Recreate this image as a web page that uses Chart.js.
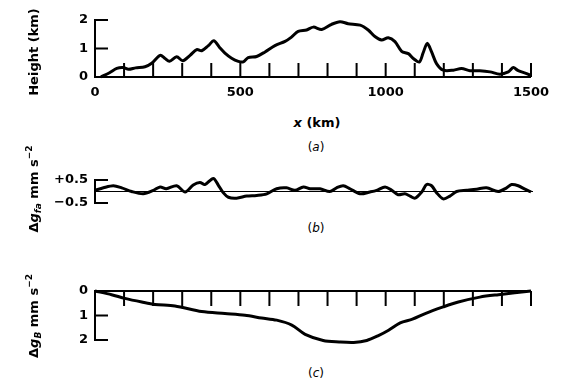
<!DOCTYPE html>
<html>
<head>
<meta charset="utf-8">
<script src="https://cdn.jsdelivr.net/npm/chart.js@4.4.1/dist/chart.umd.min.js"></script>
<style>
    html, body { margin: 0; padding: 0; background: #fff; }
    #page { position: relative; width: 576px; height: 388px; overflow: hidden; font-family: 'DejaVu Sans', sans-serif; color: #000; }
    canvas { position: absolute; left: 0; }
    .lbl { position: absolute; white-space: nowrap; transform: translate(-50%, -50%); font-weight: bold; font-size: 13px; line-height: 1; }
    .rot { transform: translate(-50%, -50%) rotate(-90deg); }
    .cap { font-weight: normal; font-size: 12px; }
    sub, sup { font-size: 9px; line-height: 0; }
</style>
</head>
<body>
<div id="page">
    <canvas id="chart-a" width="576" height="110" style="top:0px"></canvas>
    <canvas id="chart-b" width="576" height="50" style="top:160px"></canvas>
    <canvas id="chart-c" width="576" height="80" style="top:270px"></canvas>

    <div class="lbl rot" style="left:33px; top:52px">Height (km)</div>
    <div class="lbl" style="left:317px; top:122px"><i>x</i> (km)</div>
    <div class="lbl cap" style="left:316px; top:147px">(<i>a</i>)</div>

    <div class="lbl rot" style="left:33px; top:189px">Δ<i>g</i><sub><i>fa</i></sub> mm s<sup>−2</sup></div>
    <div class="lbl cap" style="left:316px; top:228px">(<i>b</i>)</div>

    <div class="lbl rot" style="left:33px; top:316px">Δ<i>g</i><sub><i>B</i></sub> mm s<sup>−2</sup></div>
    <div class="lbl cap" style="left:316px; top:373px">(<i>c</i>)</div>
</div>
<script>
// Topographic profile (a)
const kmA = [20, 50, 75, 97, 115, 140, 172, 195, 224, 241, 256, 281, 302, 327, 350, 367, 390, 409, 430, 447,
    470, 493, 510, 527, 556, 585, 619, 654, 676, 699, 728, 751, 780, 814, 843, 871, 912, 940, 963, 986,
    1009, 1032, 1055, 1078, 1095, 1116, 1129, 1143, 1158, 1175, 1198, 1233, 1261, 1290, 1324, 1359, 1393,
    1422, 1439, 1456, 1485, 1500];
const heightA = [0, 0.15, 0.3, 0.33, 0.27, 0.32, 0.36, 0.48, 0.76, 0.65, 0.55, 0.71, 0.57, 0.76, 0.96, 0.92, 1.1, 1.27, 1.02, 0.84,
    0.66, 0.55, 0.53, 0.68, 0.72, 0.88, 1.1, 1.25, 1.4, 1.6, 1.65, 1.75, 1.67, 1.85, 1.94, 1.87, 1.82, 1.65, 1.42, 1.3,
    1.38, 1.24, 0.9, 0.82, 0.65, 0.53, 0.85, 1.18, 0.88, 0.47, 0.24, 0.24, 0.3, 0.22, 0.22, 0.18, 0.1,
    0.18, 0.33, 0.22, 0.12, 0.05];

// Free-air anomaly (b)
const kmB = [0, 29, 63, 92, 126, 166, 201, 224, 245, 281, 310, 338, 361, 378, 407, 424, 441, 459, 487, 522,
    556, 591, 625, 659, 688, 717, 740, 774, 808, 831, 854, 877, 912, 946, 969, 998, 1021, 1043, 1066, 1084,
    1101, 1124, 1141, 1158, 1175, 1198, 1221, 1244, 1279, 1313, 1347, 1387, 1416, 1433, 1456, 1479, 1500];
const gfaB = [0.05, 0.16, 0.25, 0.16, 0, -0.1, 0.05, 0.2, 0.12, 0.25, -0.02, 0.28, 0.39, 0.3, 0.57, 0.28, -0.05, -0.25, -0.29, -0.2,
    -0.17, -0.1, 0.12, 0.16, 0.05, 0.2, 0.12, 0.12, 0, 0.16, 0.25, 0.12, -0.1, -0.02, 0.05, 0.2, 0.05, -0.14, -0.1, -0.2,
    -0.29, -0.02, 0.3, 0.25, -0.05, -0.32, -0.2, 0, 0.05, 0.1, 0.16, 0, 0.16, 0.3, 0.25, 0.1, -0.02];

// Bouguer anomaly (c)
const kmC = [0, 57, 103, 161, 206, 275, 367, 447, 516, 573, 625, 677, 723, 785, 840, 890, 935, 975, 1010, 1050,
    1092, 1136, 1198, 1250, 1324, 1388, 1500];
const gbC = [0, 0.15, 0.3, 0.45, 0.55, 0.61, 0.84, 0.92, 0.99, 1.1, 1.19, 1.39, 1.77, 2.02, 2.08, 2.1, 2.02, 1.82, 1.6, 1.3,
    1.15, 0.92, 0.65, 0.45, 0.25, 0.15, 0];

// Tick positions
const xTickKm = [100, 200, 300, 400, 500, 600, 700, 800, 900, 1000, 1100, 1200, 1300, 1400, 1500];
const xLabelKm = [0, 500, 1000, 1500];
const yTicksA = [0, 1, 2];
const yTicksB = [-0.5, 0.5];
const yTicksC = [0, 1, 2];

const TICK_FONT = { family: 'DejaVu Sans', weight: 'bold', size: 13 };

const toPoints = (xs, ys) => xs.map((x, i) => ({ x, y: ys[i] }));

// Axis lines and inward tick marks
const axisFrame = {
    id: 'axisFrame',
    afterDatasetsDraw(chart, args, opts) {
        const { ctx, scales: { x, y } } = chart;
        const x0 = x.getPixelForValue(0);
        const x1 = x.getPixelForValue(1500);
        ctx.save();
        ctx.strokeStyle = '#000';
        ctx.lineCap = 'butt';

        // left axis + y ticks
        ctx.lineWidth = 2;
        ctx.beginPath();
        ctx.moveTo(x0, y.getPixelForValue(opts.yTicks[0]));
        ctx.lineTo(x0, y.getPixelForValue(opts.yTicks[opts.yTicks.length - 1]));
        opts.yTicks.forEach(v => {
            const py = y.getPixelForValue(v);
            ctx.moveTo(x0 - 1, py);
            ctx.lineTo(x0 + opts.yTickLen, py);
        });
        ctx.stroke();

        // horizontal base line
        const yb = y.getPixelForValue(opts.baseAt);
        ctx.lineWidth = opts.baseWidth;
        ctx.beginPath();
        ctx.moveTo(x0, yb);
        ctx.lineTo(x1 + (opts.baseExtra || 0), yb);
        ctx.stroke();

        // x ticks
        if (opts.xTicks) {
            ctx.lineWidth = 2;
            ctx.beginPath();
            opts.xTicks.forEach(v => {
                const px = x.getPixelForValue(v);
                ctx.moveTo(px, yb);
                ctx.lineTo(px, yb + opts.xTickDir * opts.xTickLen);
            });
            ctx.stroke();
        }
        ctx.restore();
    }
};

function makeChart(canvasId, points, cfg) {
    const ctx = document.getElementById(canvasId).getContext('2d');
    return new Chart(ctx, {
        type: 'line',
        data: {
            datasets: [{
                data: points,
                borderColor: '#000',
                borderWidth: 3,
                pointRadius: 0,
                tension: 0.3,
                clip: false,
                fill: false
            }]
        },
        options: {
            responsive: false,
            animation: false,
            layout: { padding: cfg.padding },
            plugins: {
                legend: { display: false },
                tooltip: { enabled: false },
                axisFrame: cfg.frame
            },
            scales: {
                x: {
                    type: 'linear',
                    min: 0,
                    max: 1500,
                    display: cfg.showX,
                    grid: { display: false, drawTicks: false },
                    border: { display: false },
                    afterBuildTicks: s => { s.ticks = xLabelKm.map(v => ({ value: v })); },
                    afterFit: s => { s.height = cfg.showX ? 33 : 0; },
                    ticks: {
                        font: TICK_FONT, color: '#000', padding: 8, maxRotation: 0, autoSkip: false,
                        callback: v => String(v)
                    }
                },
                y: {
                    type: 'linear',
                    min: cfg.yMin,
                    max: cfg.yMax,
                    reverse: !!cfg.reverse,
                    grid: { display: false, drawTicks: false },
                    border: { display: false },
                    afterBuildTicks: s => { s.ticks = cfg.frame.yTicks.map(v => ({ value: v })); },
                    afterFit: s => {
                        s.width = 95;
                        // keep the label overhang from shrinking the plot area
                        s.paddingTop = 0;
                        s.paddingBottom = 0;
                    },
                    ticks: {
                        font: TICK_FONT,
                        color: '#000',
                        padding: 7,
                        callback: cfg.tickFmt || (v => String(v))
                    }
                }
            }
        },
        plugins: [axisFrame]
    });
}

makeChart('chart-a', toPoints(kmA, heightA), {
    padding: { top: 20, right: 45, left: 0, bottom: 0 },
    showX: true,
    yMin: 0, yMax: 2,
    frame: { yTicks: yTicksA, yTickLen: 13, baseAt: 0, baseWidth: 2, xTicks: xTickKm, xTickDir: -1, xTickLen: 14 }
});

makeChart('chart-b', toPoints(kmB, gfaB), {
    padding: { top: 20, right: 45, left: 0, bottom: 7 },
    showX: false,
    yMin: -0.5, yMax: 0.5,
    tickFmt: v => (v > 0 ? '+' : '\u2212') + Math.abs(v).toFixed(1),
    frame: { yTicks: yTicksB, yTickLen: 13, baseAt: 0, baseWidth: 1, baseExtra: 2 }
});

makeChart('chart-c', toPoints(kmC, gbC), {
    padding: { top: 21, right: 45, left: 0, bottom: 10 },
    showX: false,
    yMin: 0, yMax: 2,
    reverse: true,
    frame: { yTicks: yTicksC, yTickLen: 13, baseAt: 0, baseWidth: 2, xTicks: xTickKm, xTickDir: 1, xTickLen: 15 }
});
</script>
</body>
</html>
